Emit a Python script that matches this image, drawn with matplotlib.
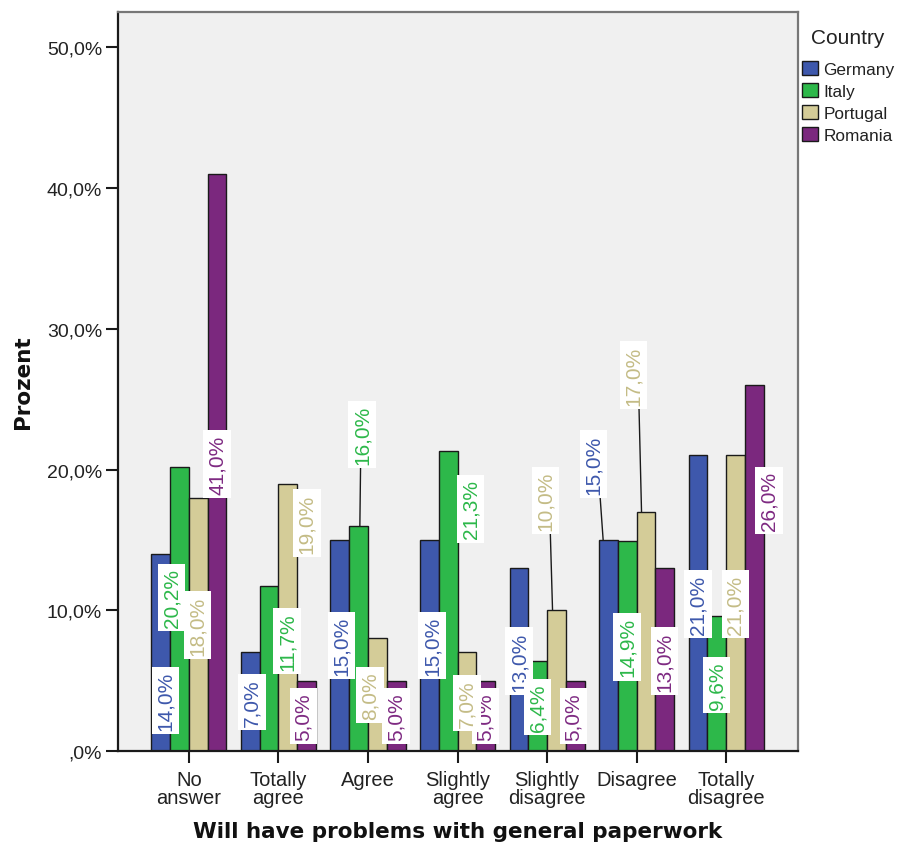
import matplotlib
matplotlib.use("Agg")
import matplotlib.pyplot as plt
import numpy as np
from matplotlib.ticker import FuncFormatter, FixedLocator

# ---------------- data ----------------
categories = ["No\nanswer", "Totally\nagree", "Agree", "Slightly\nagree",
              "Slightly\ndisagree", "Disagree", "Totally\ndisagree"]
countries = ["Germany", "Italy", "Portugal", "Romania"]
germany = [14.0, 7.0, 15.0, 15.0, 13.0, 15.0, 21.0]
italy = [20.2, 11.7, 16.0, 21.3, 6.4, 14.9, 9.6]
portugal = [18.0, 19.0, 8.0, 7.0, 10.0, 17.0, 21.0]
romania = [41.0, 5.0, 5.0, 5.0, 5.0, 13.0, 26.0]
series = [germany, italy, portugal, romania]
yticks = [0, 10, 20, 30, 40, 50]

# ---------------- styling / layout ----------------
bar_colors = ["#3E58AC", "#2DB84A", "#D4CC98", "#7B287E"]
text_colors = ["#3E58AC", "#2DB84A", "#C4BC86", "#7E2A82"]
# label placement (center height in %, horizontal offset in px) as SPSS placed them
label_y = [
    [3.6, 3.45, 7.5, 7.5, 6.4, 20.4, 10.45],
    [10.9, 7.8, 22.5, 17.2, 3.1, 7.4, 4.7],
    [8.95, 16.2, 4.0, 3.4, 17.8, 26.7, 10.45],
    [20.4, 2.5, 2.5, 2.5, 2.5, 6.4, 17.8],
]
label_dx_px = [
    [4.5, 1.5, 1.5, 2.5, 0, -15, 0],
    [-8, 18, 3.5, 22.5, 0, 0, 0],
    [-1, 19, -7.5, 0, -11, -12.5, 0],
    [0, -3, 0, 0, -1.5, 0, 15],
]
leaders = [(2, 1), (4, 2), (5, 0), (5, 2)]  # (category, series) with leader line
label_z = [[5, 5, 5, 5, 5, 5, 5], [5, 5, 5, 5, 5, 5, 5],
           [5, 5, 5, 6, 5, 5, 5], [5, 5, 5, 4, 5, 5, 5]]

W, H = 900, 853
fig = plt.figure(figsize=(W / 100, H / 100), dpi=100)
ax = fig.add_axes([118 / W, 1 - 752 / H, (798 - 118) / W, (752 - 12.5) / H])
ax.set_facecolor("#F0F0F0")

x = np.arange(len(categories))
bw = 0.2095
px_per_unit = 89.5
bars_handles = []
for j, vals in enumerate(series):
    b = ax.bar(x + (j - 1.5) * bw, vals, width=bw, color=bar_colors[j],
               edgecolor="#1a1a1a", linewidth=1.0, zorder=2, label=countries[j])
    bars_handles.append(b)

ax.set_xlim(-0.793, 6.804)
ax.set_ylim(0, 52.55)

box_half = 2.38
for j, vals in enumerate(series):
    for i, v in enumerate(vals):
        bx = x[i] + (j - 1.5) * bw
        lx = bx + label_dx_px[j][i] / px_per_unit
        ly = label_y[j][i]
        txt = f"{v:.1f}".replace(".", ",") + "%"
        ax.text(lx, ly, txt, rotation=90, ha="center", va="center",
                color=text_colors[j], fontsize=15, family="Liberation Sans",
                zorder=label_z[j][i],
                bbox=dict(boxstyle="square,pad=0.2", fc="white", ec="none"))
        if (i, j) in leaders:
            x0 = lx + 0.45 * (bx - lx)
            x1 = lx + 0.65 * (bx - lx)
            ax.plot([x0, x1], [ly - box_half, v], color="#1a1a1a", lw=1.0, zorder=3)

# axes / ticks
ax.yaxis.set_major_locator(FixedLocator(yticks))
def fmt(v, pos):
    s = f"{v:.1f}".replace(".", ",") + "%"
    if s.startswith("0,"):
        s = s[1:]
    return s
ax.yaxis.set_major_formatter(FuncFormatter(fmt))
ax.set_xticks(x)
ax.set_xticklabels(categories, linespacing=0.95)
ax.tick_params(axis="both", direction="out", length=8.5, width=1.5, color="#1a1a1a",
               labelsize=14, labelcolor="#222222")
ax.tick_params(axis="y", pad=3)
ax.tick_params(axis="x", pad=5)
for lab in ax.get_xticklabels() + ax.get_yticklabels():
    lab.set_family("Liberation Sans")
for lab in ax.get_xticklabels():
    lab.set_fontsize(14.5)

for s in ["left", "bottom"]:
    ax.spines[s].set_color("#1a1a1a")
    ax.spines[s].set_linewidth(1.6)
for s in ["top", "right"]:
    ax.spines[s].set_color("#777777")
    ax.spines[s].set_linewidth(1.6)

ax.set_ylabel("Prozent", fontsize=15.5, fontweight="bold", family="DejaVu Sans",
              labelpad=10, color="#111111")
ax.set_xlabel("Will have problems with general paperwork", fontsize=15.5,
              fontweight="bold", family="DejaVu Sans", labelpad=10, color="#111111")

leg = fig.legend(handles=bars_handles, labels=countries, loc="upper left",
                 bbox_to_anchor=(793 / W, 1 - 20 / H), frameon=False,
                 title="Country", borderpad=0, handlelength=0.95, handleheight=0.95,
                 handletextpad=0.3, labelspacing=0.33,
                 prop={"family": "Liberation Sans", "size": 12.4},
                 title_fontproperties={"family": "Liberation Sans", "size": 15})
leg._legend_box.sep = 10
for t in leg.get_texts():
    t.set_color("#222222")
leg.get_title().set_color("#222222")

fig.savefig("out.png", dpi=100, facecolor="white")
